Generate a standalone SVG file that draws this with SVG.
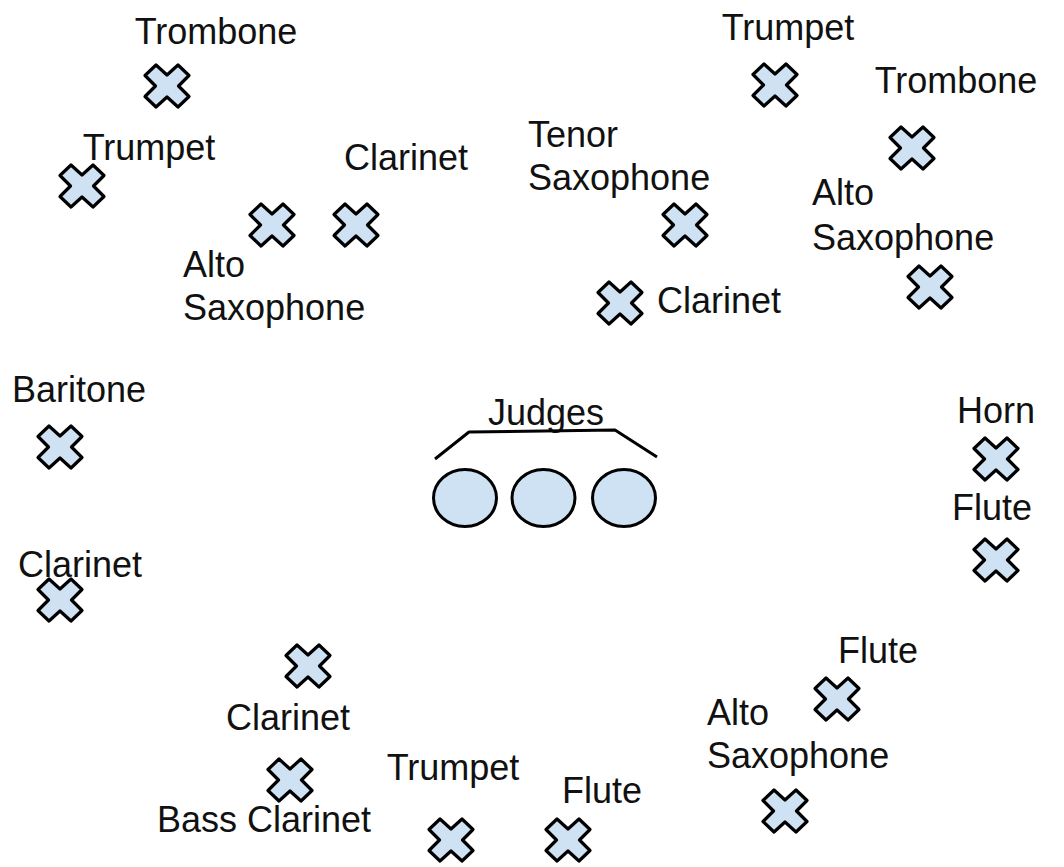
<svg xmlns="http://www.w3.org/2000/svg" xmlns:xlink="http://www.w3.org/1999/xlink" width="1064" height="867" viewBox="0 0 1064 867">
  <style>
    text { font-family: "Liberation Sans", Arial, sans-serif; font-size: 36px; fill: #111; }
    .mid { text-anchor: middle; }
    .mark { fill: #cfe2f3; stroke: #000; stroke-width: 3.2; stroke-linejoin: round; }
    .seat { fill: #cfe2f3; stroke: #000; stroke-width: 3; }
    .brace { fill: none; stroke: #000; stroke-width: 3; stroke-linejoin: round; }
  </style>
  <defs>
    <!-- player position marker: rounded X -->
    <path id="x" class="mark" d="M0,-11 L11,-21 L22,-10.5 L11.5,0 L22,10.5 L11,21 L0,11 L-11,21 L-22,10.5 L-11.5,0 L-22,-10.5 L-11,-21 Z"/>
  </defs>
  <rect width="1064" height="867" fill="#fff"/>

  <!-- top left -->
  <g id="trombone-1">
    <text class="mid" x="216" y="44">Trombone</text>
    <use xlink:href="#x" href="#x" x="167" y="86"/>
  </g>
  <g id="trumpet-1">
    <text class="mid" x="149" y="160">Trumpet</text>
    <use xlink:href="#x" href="#x" x="82" y="186"/>
  </g>
  <g id="alto-sax-1">
    <use xlink:href="#x" href="#x" x="272" y="225"/>
    <text x="183" y="277">Alto</text>
    <text x="183" y="320">Saxophone</text>
  </g>
  <g id="clarinet-1">
    <text class="mid" x="406" y="170">Clarinet</text>
    <use xlink:href="#x" href="#x" x="356" y="225"/>
  </g>

  <!-- top right -->
  <g id="tenor-sax">
    <text x="528" y="147">Tenor</text>
    <text x="528" y="190">Saxophone</text>
    <use xlink:href="#x" href="#x" x="685" y="225"/>
  </g>
  <g id="clarinet-2">
    <use xlink:href="#x" href="#x" x="620" y="303"/>
    <text x="657" y="313">Clarinet</text>
  </g>
  <g id="trumpet-2">
    <text class="mid" x="788" y="40">Trumpet</text>
    <use xlink:href="#x" href="#x" x="775" y="85"/>
  </g>
  <g id="trombone-2">
    <text class="mid" x="956" y="93">Trombone</text>
    <use xlink:href="#x" href="#x" x="912" y="148"/>
  </g>
  <g id="alto-sax-2">
    <text x="812" y="205">Alto</text>
    <text x="812" y="250">Saxophone</text>
    <use xlink:href="#x" href="#x" x="930" y="287"/>
  </g>

  <!-- left side -->
  <g id="baritone">
    <text class="mid" x="79" y="402">Baritone</text>
    <use xlink:href="#x" href="#x" x="60" y="447"/>
  </g>
  <g id="clarinet-3">
    <text class="mid" x="80" y="577">Clarinet</text>
    <use xlink:href="#x" href="#x" x="60" y="600"/>
  </g>

  <!-- judges table -->
  <g id="judges">
    <text class="mid" x="546" y="425">Judges</text>
    <polyline class="brace" points="435,459 469,432 615,430 657,457"/>
    <ellipse class="seat" cx="465" cy="498" rx="31.5" ry="28.5"/>
    <ellipse class="seat" cx="543.5" cy="498" rx="31.5" ry="28.5"/>
    <ellipse class="seat" cx="624" cy="498" rx="31.5" ry="28.5"/>
  </g>

  <!-- right side -->
  <g id="horn">
    <text class="mid" x="996" y="423">Horn</text>
    <use xlink:href="#x" href="#x" x="996" y="459"/>
  </g>
  <g id="flute-1">
    <text class="mid" x="992" y="520">Flute</text>
    <use xlink:href="#x" href="#x" x="996" y="560"/>
  </g>

  <!-- bottom -->
  <g id="flute-2">
    <text class="mid" x="878" y="663">Flute</text>
    <use xlink:href="#x" href="#x" x="837" y="699"/>
  </g>
  <g id="alto-sax-3">
    <text x="707" y="725">Alto</text>
    <text x="707" y="768">Saxophone</text>
    <use xlink:href="#x" href="#x" x="785" y="811"/>
  </g>
  <g id="clarinet-4">
    <use xlink:href="#x" href="#x" x="308" y="666"/>
    <text class="mid" x="288" y="730">Clarinet</text>
  </g>
  <g id="bass-clarinet">
    <use xlink:href="#x" href="#x" x="290" y="780"/>
    <text class="mid" x="264" y="832">Bass Clarinet</text>
  </g>
  <g id="trumpet-3">
    <text class="mid" x="453" y="780">Trumpet</text>
    <use xlink:href="#x" href="#x" x="451" y="840"/>
  </g>
  <g id="flute-3">
    <text class="mid" x="602" y="803">Flute</text>
    <use xlink:href="#x" href="#x" x="568" y="840"/>
  </g>
</svg>
